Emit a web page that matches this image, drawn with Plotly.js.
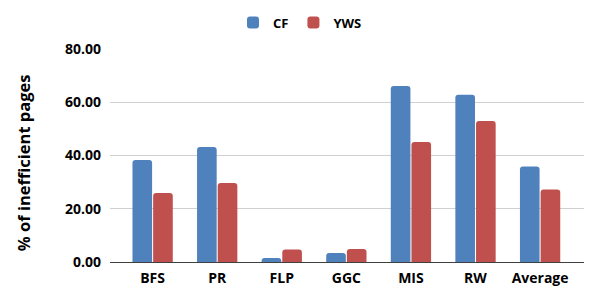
<!DOCTYPE html>
<html><head><meta charset="utf-8">
<script src="https://cdn.plot.ly/plotly-3.0.1.min.js"></script>
<style>html,body{margin:0;padding:0;background:#fff}#c{width:600px;height:302px}</style>
</head><body><div id="c"></div>
<script>
const categories = ["BFS", "PR", "FLP", "GGC", "MIS", "RW", "Average"];
const cfValues = [38.3, 43.2, 1.5, 3.4, 66.1, 62.8, 35.9];
const ywsValues = [25.9, 29.7, 4.7, 4.9, 45.1, 53.0, 27.2];
const yTicks = [0, 20, 40, 60, 80];
const yTitle = "% of inefficient pages";

const font = {family: "Open Sans, DejaVu Sans, sans-serif", color: "#000"};
const data = [
  {type: "bar", name: "CF", x: categories, y: cfValues, marker: {color: "#4F81BD"}, hoverinfo: "skip"},
  {type: "bar", name: "YWS", x: categories, y: ywsValues, marker: {color: "#C0504D"}, hoverinfo: "skip"}
];
const layout = {
  width: 600, height: 302,
  margin: {l: 110, r: 16, t: 49, b: 40},
  paper_bgcolor: "#fff", plot_bgcolor: "#fff",
  barmode: "group", bargap: 0.36, bargroupgap: 0.05, barcornerradius: 3,
  font: font,
  showlegend: true,
  legend: {orientation: "h", xref: "container", yref: "container", x: 0.5, xanchor: "center", y: 0.925, yanchor: "middle",
           font: {family: font.family, size: 13, color: "#000", weight: "bold"}, itemwidth: 30, traceorder: "normal"},
  xaxis: {type: "category", range: [-0.66, 6.68], showgrid: false, showline: false, ticks: "", ticklabelstandoff: 6,
          tickfont: {family: font.family, size: 14, color: "#000", weight: "bold"}, zeroline: false},
  yaxis: {range: [0, 80], tickvals: yTicks, tickformat: ".2f", showgrid: true, gridcolor: "#d0d0d0", gridwidth: 1,
          zeroline: true, zerolinecolor: "#404040", zerolinewidth: 1, showline: false, ticks: "", ticklen: 0,
          ticklabelstandoff: 8,
          tickfont: {family: font.family, size: 14, color: "#000", weight: "bold"}},
  annotations: [{text: yTitle, textangle: -90, showarrow: false, xref: "paper", yref: "paper",
                 x: -0.181, y: 0.465, xanchor: "center", yanchor: "middle",
                 font: {family: font.family, size: 16.5, color: "#000", weight: "bold"}}]
};
Plotly.newPlot("c", data, layout, {staticPlot: true});
</script></body></html>
